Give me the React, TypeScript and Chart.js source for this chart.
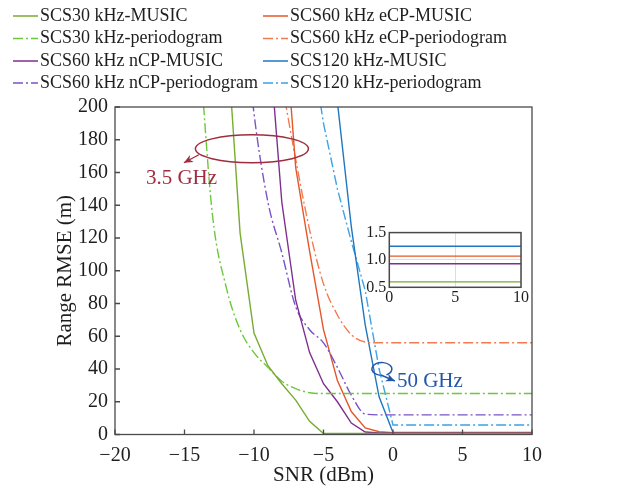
import React, { useEffect, useRef } from "react";
import { Chart, registerables } from "chart.js";

Chart.register(...registerables);

// ---------------- DATA ----------------
const snr = [-20, -19, -18, -17, -16, -15, -14, -13, -12, -11, -10, -9, -8, -7, -6, -5, -4, -3, -2, -1, 0, 1, 2, 3, 4, 5, 6, 7, 8, 9, 10];

const scs30Music = [null, null, null, null, null, null, null, null, 250, 123, 62, 42, 31, 21, 8, 0.6, 0.6, 0.6, 0.6, 0.6, 0.6, 0.6, 0.6, 0.6, 0.6, 0.6, 0.6, 0.6, 0.6, 0.6, 0.6];
const scs30Periodogram = [null, null, null, null, null, null, 245, 135, 90, 64, 50, 41, 32.5, 28, 25.5, 25, 25, 25, 25, 25, 25, 25, 25, 25, 25, 25, 25, 25, 25, 25, 25];
const scs60nCPMusic = [null, null, null, null, null, null, null, null, null, null, null, 250, 142, 82, 50, 31, 20, 7, 1.5, 1.0, 0.93, 0.93, 0.93, 0.93, 0.93, 0.93, 0.93, 0.93, 0.93, 0.93, 0.93];
const scs60nCPPeriodogram = [null, null, null, null, null, null, null, null, null, 280, 196, 142, 111, 78, 64, 56, 41, 24, 12.5, 12, 12, 12, 12, 12, 12, 12, 12, 12, 12, 12, 12];
const scs60eCPMusic = [null, null, null, null, null, null, null, null, null, null, null, null, 276, 163, 112, 64, 33, 14, 4, 1.7, 1.07, 1.07, 1.07, 1.07, 1.07, 1.07, 1.07, 1.07, 1.07, 1.07, 1.07];
const scs60eCPPeriodogram = [null, null, null, null, null, null, null, null, null, null, null, null, 215, 168, 125, 92, 73, 61, 56.5, 56, 56, 56, 56, 56, 56, 56, 56, 56, 56, 56, 56];
const scs120Music = [null, null, null, null, null, null, null, null, null, null, null, null, null, null, null, 380, 203, 127, 67, 23, 1.25, 1.25, 1.25, 1.25, 1.25, 1.25, 1.25, 1.25, 1.25, 1.25, 1.25];
const scs120Periodogram = [null, null, null, null, null, null, null, null, null, null, null, null, null, null, 245, 190, 150, 118, 88, 40, 5.8, 5.8, 5.8, 5.8, 5.8, 5.8, 5.8, 5.8, 5.8, 5.8, 5.8];

const xTicks = { min: -20, max: 10, step: 5 };
const yTicks = { min: 0, max: 200, step: 20 };
const insetX = { min: 0, max: 10, step: 5 };
const insetY = { min: 0.5, max: 1.5, step: 0.5 };

const seriesDefs = [
  { label: "SCS30 kHz-MUSIC", values: scs30Music, color: "#77AC30", dashed: false, smooth: false },
  { label: "SCS30 kHz-periodogram", values: scs30Periodogram, color: "#6CC83A", dashed: true, smooth: true },
  { label: "SCS60 kHz nCP-MUSIC", values: scs60nCPMusic, color: "#7E2F8E", dashed: false, smooth: false },
  { label: "SCS60 kHz nCP-periodogram", values: scs60nCPPeriodogram, color: "#7B52C7", dashed: true, smooth: true },
  { label: "SCS60 kHz eCP-MUSIC", values: scs60eCPMusic, color: "#E4572A", dashed: false, smooth: false },
  { label: "SCS60 kHz eCP-periodogram", values: scs60eCPPeriodogram, color: "#F47A50", dashed: true, smooth: true },
  { label: "SCS120 kHz-MUSIC", values: scs120Music, color: "#1F77C0", dashed: false, smooth: false },
  { label: "SCS120 kHz-periodogram", values: scs120Periodogram, color: "#3BA3E6", dashed: true, smooth: false },
];

// ---------------- STYLE ----------------
const FONT = "'Liberation Serif', 'Times New Roman', serif";
const DASH = [10, 3, 2, 3];
const AXIS_COLOR = "#4a4a4a";
const TEXT_COLOR = "#1e1e1e";

const fmtMinus = (v: number) => (v < 0 ? "\u2212" + Math.abs(v) : String(v));

function arrow(ctx: CanvasRenderingContext2D, x0: number, y0: number, x1: number, y1: number, color: string) {
  ctx.strokeStyle = color;
  ctx.fillStyle = color;
  ctx.lineWidth = 1.4;
  ctx.setLineDash([]);
  ctx.beginPath();
  ctx.moveTo(x0, y0);
  ctx.lineTo(x1, y1);
  ctx.stroke();
  const ang = Math.atan2(y1 - y0, x1 - x0);
  const L = 9, W = 4;
  ctx.beginPath();
  ctx.moveTo(x1, y1);
  ctx.lineTo(x1 - L * Math.cos(ang) + W * Math.sin(ang), y1 - L * Math.sin(ang) - W * Math.cos(ang));
  ctx.lineTo(x1 - L * 0.7 * Math.cos(ang), y1 - L * 0.7 * Math.sin(ang));
  ctx.lineTo(x1 - L * Math.cos(ang) - W * Math.sin(ang), y1 - L * Math.sin(ang) + W * Math.cos(ang));
  ctx.closePath();
  ctx.fill();
}

const decorPlugin = {
  id: "decor",
  afterDraw(chart: any) {
    const { ctx, chartArea: a, scales } = chart;
    const xs = scales.x, ys = scales.y;
    ctx.save();
    // axes box
    ctx.strokeStyle = AXIS_COLOR;
    ctx.lineWidth = 1.3;
    ctx.setLineDash([]);
    ctx.strokeRect(a.left, a.top, a.right - a.left, a.bottom - a.top);
    // inward ticks
    ctx.beginPath();
    xs.ticks.forEach((t: any) => {
      const px = xs.getPixelForValue(t.value);
      ctx.moveTo(px, a.bottom);
      ctx.lineTo(px, a.bottom - 5);
    });
    ys.ticks.forEach((t: any) => {
      const py = ys.getPixelForValue(t.value);
      ctx.moveTo(a.left, py);
      ctx.lineTo(a.left + 5, py);
    });
    ctx.stroke();

    // axis titles
    ctx.fillStyle = TEXT_COLOR;
    ctx.font = `21px ${FONT}`;
    ctx.textAlign = "center";
    ctx.textBaseline = "middle";
    ctx.fillText("SNR (dBm)", (a.left + a.right) / 2, 475);
    ctx.save();
    ctx.translate(65, (a.top + a.bottom) / 2);
    ctx.rotate(-Math.PI / 2);
    ctx.fillText("Range RMSE (m)", 0, 0);
    ctx.restore();

    // legend
    ctx.font = `18px ${FONT}`;
    ctx.textAlign = "left";
    ctx.textBaseline = "middle";
    const rowsY = [16, 38.5, 61, 83];
    const colLine = [13, 263];
    const colText = [40, 290];
    chart.data.datasets.forEach((ds: any, i: number) => {
      const col = Math.floor(i / 4), row = i % 4;
      const y = rowsY[row];
      ctx.strokeStyle = ds.borderColor;
      ctx.lineWidth = 1.5;
      ctx.setLineDash(ds.borderDash || []);
      ctx.beginPath();
      ctx.moveTo(colLine[col], y);
      ctx.lineTo(colLine[col] + 25, y);
      ctx.stroke();
      ctx.setLineDash([]);
      ctx.fillStyle = TEXT_COLOR;
      ctx.fillText(ds.label, colText[col], y);
    });

    // 3.5 GHz annotation
    const red = "#A02C3D";
    const cx = xs.getPixelForValue(-10.15), cy = ys.getPixelForValue(174.5);
    ctx.strokeStyle = red;
    ctx.lineWidth = 1.5;
    ctx.beginPath();
    ctx.ellipse(cx, cy, 56.5, 14, 0, 0, Math.PI * 2);
    ctx.stroke();
    arrow(ctx, cx - 53, cy + 6, cx - 68, cy + 14, red);
    ctx.fillStyle = red;
    ctx.font = `21px ${FONT}`;
    ctx.textBaseline = "alphabetic";
    ctx.fillText("3.5 GHz", cx - 106, cy + 35);

    // 50 GHz annotation
    const blue = "#2456A8";
    const bx = xs.getPixelForValue(-0.8), by = ys.getPixelForValue(40);
    ctx.strokeStyle = blue;
    ctx.lineWidth = 1.4;
    ctx.beginPath();
    ctx.ellipse(bx, by, 10, 6.5, 0, Math.PI * 0.55, Math.PI * 2.35);
    ctx.stroke();
    arrow(ctx, bx - 1, by + 6, bx + 13, by + 12, blue);
    ctx.fillStyle = blue;
    ctx.font = `21px ${FONT}`;
    ctx.fillText("50 GHz", bx + 15, by + 18);
    ctx.restore();
  },
};

const insetPlugin = {
  id: "insetDecor",
  beforeDraw(chart: any) {
    const { ctx, chartArea: a } = chart;
    ctx.save();
    ctx.fillStyle = "#ffffff";
    ctx.fillRect(a.left, a.top, a.right - a.left, a.bottom - a.top);
    ctx.restore();
  },
  afterDraw(chart: any) {
    const { ctx, chartArea: a } = chart;
    ctx.save();
    ctx.strokeStyle = AXIS_COLOR;
    ctx.lineWidth = 1.5;
    ctx.strokeRect(a.left, a.top, a.right - a.left, a.bottom - a.top);
    ctx.restore();
  },
};

export default function App() {
  const mainRef = useRef<HTMLCanvasElement | null>(null);
  const insetRef = useRef<HTMLCanvasElement | null>(null);

  useEffect(() => {
    const datasets = seriesDefs.map((s) => ({
      label: s.label,
      data: snr.map((x, i) => ({ x, y: s.values[i] })),
      borderColor: s.color,
      backgroundColor: s.color,
      borderWidth: 1.4,
      borderDash: s.dashed ? DASH : [],
      pointRadius: 0,
      fill: false,
      cubicInterpolationMode: s.smooth ? "monotone" : "default",
      tension: 0,
      spanGaps: false,
    }));

    const main = new Chart(mainRef.current as HTMLCanvasElement, {
      type: "line",
      data: { datasets: datasets as any },
      options: {
        animation: false,
        responsive: false,
        maintainAspectRatio: false,
        layout: { padding: { top: 107, right: 91, left: 0, bottom: 0 } },
        plugins: { legend: { display: false }, tooltip: { enabled: false } },
        scales: {
          x: {
            type: "linear",
            min: xTicks.min,
            max: xTicks.max,
            grid: { display: false, drawTicks: false },
            border: { display: false },
            ticks: {
              stepSize: xTicks.step,
              color: TEXT_COLOR,
              font: { family: FONT, size: 20 },
              padding: 9,
              maxRotation: 0,
              callback: (v: any) => fmtMinus(Number(v)),
            },
            afterFit: (s: any) => {
              s.height = 58.5;
            },
          },
          y: {
            type: "linear",
            min: yTicks.min,
            max: yTicks.max,
            grid: { display: false, drawTicks: false },
            border: { display: false },
            ticks: {
              stepSize: yTicks.step,
              color: TEXT_COLOR,
              font: { family: FONT, size: 20 },
              padding: 7,
              callback: (v: any) => fmtMinus(Number(v)),
            },
            afterFit: (s: any) => {
              s.width = 115;
            },
          },
        },
      },
      plugins: [decorPlugin],
    });

    const insetSets = seriesDefs
      .filter((s) => !s.dashed)
      .map((s) => ({
        label: s.label,
        data: snr.map((x, i) => ({ x, y: s.values[i] })).filter((p) => p.x >= insetX.min && p.x <= insetX.max),
        borderColor: s.color,
        borderWidth: 1.4,
        pointRadius: 0,
        fill: false,
        tension: 0,
      }));

    const inset = new Chart(insetRef.current as HTMLCanvasElement, {
      type: "line",
      data: { datasets: insetSets as any },
      options: {
        animation: false,
        responsive: false,
        maintainAspectRatio: false,
        layout: { padding: { top: 9.3, right: 6.7, left: 0, bottom: 0 } },
        plugins: { legend: { display: false }, tooltip: { enabled: false } },
        scales: {
          x: {
            type: "linear",
            min: insetX.min,
            max: insetX.max,
            grid: { display: true, drawTicks: false, color: "#dddddd", lineWidth: 1 },
            border: { display: false },
            ticks: {
              stepSize: insetX.step,
              color: TEXT_COLOR,
              font: { family: FONT, size: 16 },
              padding: 1,
              maxRotation: 0,
            },
            afterFit: (s: any) => {
              s.height = 18.7;
            },
          },
          y: {
            type: "linear",
            min: insetY.min,
            max: insetY.max,
            grid: { display: true, drawTicks: false, color: "#dddddd", lineWidth: 1 },
            border: { display: false },
            ticks: {
              stepSize: insetY.step,
              color: TEXT_COLOR,
              font: { family: FONT, size: 16 },
              padding: 3,
              callback: (v: any) => Number(v).toFixed(1),
            },
            afterFit: (s: any) => {
              s.width = 39.3;
            },
          },
        },
      },
      plugins: [insetPlugin],
    });

    return () => {
      main.destroy();
      inset.destroy();
    };
  }, []);

  return (
    <div style={{ position: "fixed", left: 0, top: 0, width: 623, height: 493, background: "#ffffff" }}>
      <canvas ref={mainRef} width={623} height={493} style={{ position: "absolute", left: 0, top: 0, width: 623, height: 493 }} />
      <canvas ref={insetRef} width={180} height={86} style={{ position: "absolute", left: 350, top: 220, width: 180, height: 86 }} />
    </div>
  );
}
